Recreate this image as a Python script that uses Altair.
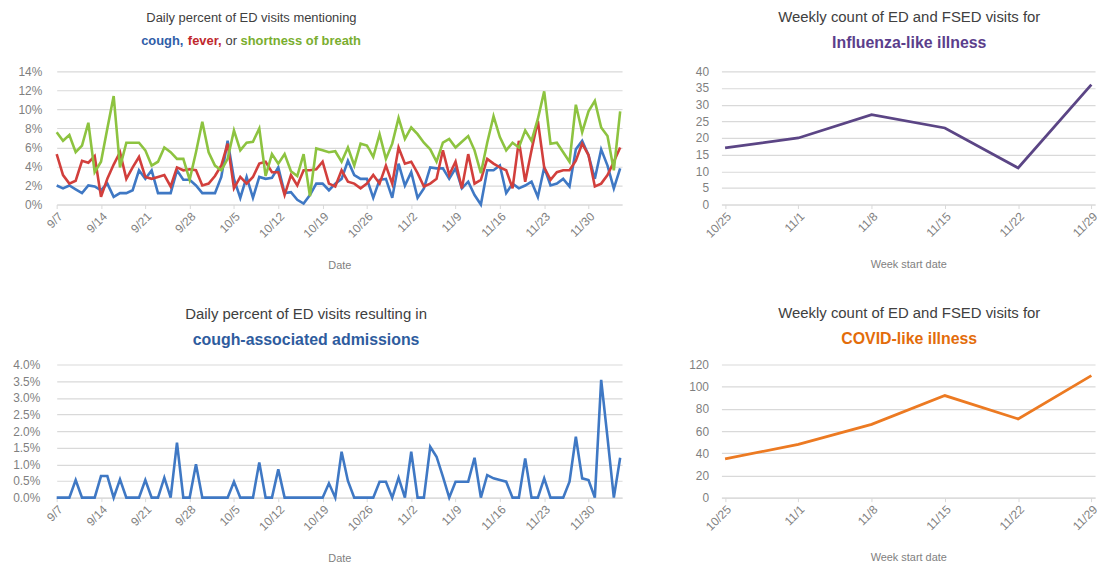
import altair as alt
import pandas as pd

# ---------------- data ----------------
daily_labels = ["9/7", "9/14", "9/21", "9/28", "10/5", "10/12", "10/19",
                "10/26", "11/2", "11/9", "11/16", "11/23", "11/30"]

cough = [2.0, 1.7, 2.0, 1.6, 1.2, 2.0, 1.9, 1.5, 2.2, 0.8,
         1.2, 1.2, 1.5, 3.6, 2.7, 3.6, 1.2, 1.2, 1.2, 3.6,
         2.6, 2.6, 2.0, 1.2, 1.2, 1.2, 2.9, 6.7, 2.7, 0.7,
         2.9, 0.7, 2.9, 2.7, 2.8, 3.9, 1.2, 1.3, 0.5, 0.1,
         1.0, 2.2, 2.2, 1.5, 2.2, 2.7, 4.6, 3.1, 2.7, 2.7,
         0.7, 2.6, 2.7, 0.7, 4.3, 2.0, 3.4, 0.7, 1.7, 3.9,
         3.8, 3.8, 2.7, 3.8, 1.7, 2.4, 1.0, 0.0, 3.6, 3.6,
         4.1, 1.2, 2.2, 1.7, 2.0, 2.4, 0.8, 3.9, 2.0, 2.2,
         2.7, 1.9, 5.8, 6.7, 5.2, 2.7, 5.8, 4.1, 1.7, 3.8]

fever = [5.3, 3.1, 2.2, 2.5, 4.6, 4.4, 5.1, 0.8, 2.7, 4.2,
         5.5, 2.7, 3.9, 5.0, 2.9, 2.7, 2.9, 3.1, 1.9, 3.9,
         3.6, 3.7, 3.6, 2.0, 2.2, 3.0, 4.1, 6.4, 1.7, 2.9,
         2.2, 2.9, 4.3, 4.5, 3.4, 3.4, 1.0, 3.1, 2.0, 3.6,
         3.6, 3.7, 4.5, 2.2, 1.9, 3.6, 2.4, 2.2, 1.7, 2.2,
         3.1, 2.2, 4.1, 2.2, 6.0, 4.3, 4.5, 3.3, 1.9, 2.2,
         2.7, 5.7, 3.1, 4.5, 1.7, 5.3, 2.2, 2.6, 4.8, 4.3,
         3.9, 3.6, 1.7, 6.7, 2.4, 5.7, 8.8, 3.9, 2.6, 3.4,
         3.6, 3.6, 4.6, 6.4, 5.2, 1.9, 2.2, 3.1, 4.5, 6.0]

breath = [7.6, 6.7, 7.3, 5.5, 6.2, 8.6, 3.4, 4.5, 8.0, 11.4,
          3.9, 6.5, 6.5, 6.5, 5.7, 4.1, 4.5, 6.0, 5.5, 4.8,
          4.8, 2.6, 5.5, 8.7, 5.5, 4.1, 3.6, 4.8, 7.8, 5.7,
          6.5, 6.6, 8.0, 3.0, 5.3, 4.3, 5.3, 3.5, 3.0, 5.3,
          0.9, 5.9, 5.7, 5.5, 5.6, 4.5, 6.0, 4.1, 6.4, 6.2,
          5.0, 7.4, 4.8, 6.4, 9.1, 6.9, 8.1, 7.4, 6.5, 5.8,
          4.5, 6.5, 6.9, 6.0, 6.6, 7.2, 5.7, 3.3, 6.5, 9.3,
          7.1, 5.7, 6.5, 6.0, 7.8, 6.7, 9.0, 11.9, 6.4, 6.5,
          5.5, 4.5, 10.5, 7.6, 9.8, 10.9, 8.1, 7.2, 3.6, 9.8]

admissions = [0, 0, 0, 0.53, 0, 0, 0, 0.65, 0.65, 0,
              0.55, 0, 0, 0, 0.53, 0, 0, 0.6, 0, 1.65,
              0, 0, 1.0, 0, 0, 0, 0, 0, 0.48, 0,
              0, 0, 1.06, 0, 0, 0.85, 0, 0, 0, 0,
              0, 0, 0, 0.43, 0, 1.38, 0.5, 0, 0, 0,
              0, 0.48, 0.48, 0, 0.6, 0, 1.38, 0, 0, 1.53,
              1.23, 0.63, 0, 0.48, 0.48, 0.48, 1.2, 0, 0.68, 0.58,
              0.53, 0.48, 0, 0, 1.18, 0, 0, 0.58, 0, 0,
              0, 0.48, 1.83, 0.58, 0.53, 0, 3.54, 1.8, 0, 1.2]

week_labels = ["10/25", "11/1", "11/8", "11/15", "11/22", "11/29"]
ili_counts = [17, 20, 27, 23, 11, 36]
cli_counts = [35, 48, 66, 92, 71, 110]

# ---------------- styling ----------------
FONT = "Liberation Sans"
GRID = "#d9d9d9"
LABEL = "#7f7f7f"
BLUE, RED, GREEN = "#3f78c4", "#d23f3c", "#8dc340"
PURPLE, ORANGE = "#5b4585", "#ec7a22"

days = list(range(len(cough)))
df_cough = pd.DataFrame({"day": days, "pct": cough})
df_fever = pd.DataFrame({"day": days, "pct": fever})
df_breath = pd.DataFrame({"day": days, "pct": breath})
df_adm = pd.DataFrame({"day": days, "pct": admissions})
df_ili = pd.DataFrame({"week": week_labels, "n": ili_counts})
df_cli = pd.DataFrame({"week": week_labels, "n": cli_counts})

tick_days = [7 * i for i in range(len(daily_labels))]
label_expr = "[" + ",".join("'%s'" % l for l in daily_labels) + "][round(datum.value/7)]"

W_L, W_R, H = 569, 376, 134


def x_daily():
    return alt.X("day:Q",
                 scale=alt.Scale(domain=[0, 89.3], nice=False, zero=False),
                 axis=alt.Axis(values=tick_days, labelExpr=label_expr, labelAngle=-45,
                               title="Date", grid=False, domainColor=GRID, tickColor=GRID,
                               tickSize=4, labelFontSize=12, labelColor=LABEL,
                               titleFontSize=11, titleFontWeight="normal", titleColor=LABEL,
                               titlePadding=20))


def x_week():
    return alt.X("week:O", sort=week_labels,
                 scale=alt.Scale(type="point", padding=0.05),
                 axis=alt.Axis(labelAngle=-45, title="Week start date", grid=False,
                               domainColor=GRID, tickColor=GRID, tickSize=4,
                               labelFontSize=12, labelColor=LABEL, titleFontSize=11,
                               titleFontWeight="normal", titleColor=LABEL, titlePadding=19))


def y_axis(field, dom, vals, expr, pad):
    return alt.Y(field, scale=alt.Scale(domain=dom, nice=False, zero=True),
                 axis=alt.Axis(values=vals, labelExpr=expr, title=None, grid=True,
                               gridColor=GRID, gridWidth=1.2, domain=False, ticks=False,
                               labelFontSize=12, labelColor=LABEL, labelPadding=pad))


def txt(text, x, y, size, color, weight="normal", align="center"):
    return alt.Chart(pd.DataFrame({"t": [text]})).mark_text(
        font=FONT, fontSize=size, fontWeight=weight, color=color, align=align,
        baseline="middle").encode(text="t:N", x=alt.value(x), y=alt.value(y))


pct_vals = list(range(0, 15, 2))
y_a = y_axis("pct:Q", [0, 14], pct_vals, "datum.value + '%'", 15)


def daily_line(df, color):
    return alt.Chart(df).mark_line(color=color, strokeWidth=2.6).encode(x=x_daily(), y=y_a)


panel_a = alt.layer(
    daily_line(df_cough, BLUE),
    daily_line(df_fever, RED),
    daily_line(df_breath, GREEN),
    txt("Daily percent of ED visits mentioning", 196, -54, 13, "#404040"),
    txt("cough,", 85, -31, 13, "#2f5ea8", "bold", "left"),
    txt("fever,", 132, -31, 13, "#c0282d", "bold", "left"),
    txt("or", 170, -31, 13, "#404040", "normal", "left"),
    txt("shortness of breath", 185, -31, 13, "#7aae2f", "bold", "left"),
).properties(width=W_L, height=H)

panel_b = alt.layer(
    alt.Chart(df_ili).mark_line(color=PURPLE, strokeWidth=2.8).encode(
        x=x_week(),
        y=y_axis("n:Q", [0, 40], list(range(0, 41, 5)), "datum.value", 13)),
    txt("Weekly count of ED and FSED visits for", 189, -55, 15, "#404040"),
    txt("Influenza-like illness", 189, -29, 16, "#5b3e8c", "bold"),
).properties(width=W_R, height=H)

adm_vals = [i * 0.5 for i in range(9)]
panel_c = alt.layer(
    alt.Chart(df_adm).mark_line(color=BLUE, strokeWidth=2.6).encode(
        x=x_daily(),
        y=y_axis("pct:Q", [0, 4], adm_vals, "format(datum.value, '.1f') + '%'", 17)),
    txt("Daily percent of ED visits resulting in", 251, -51, 15, "#404040"),
    txt("cough-associated admissions", 251, -25, 16, "#2e5c9e", "bold"),
).properties(width=W_L, height=H)

panel_d = alt.layer(
    alt.Chart(df_cli).mark_line(color=ORANGE, strokeWidth=2.8).encode(
        x=x_week(),
        y=y_axis("n:Q", [0, 120], list(range(0, 121, 20)), "datum.value", 13)),
    txt("Weekly count of ED and FSED visits for", 189, -52, 15, "#404040"),
    txt("COVID-like illness", 189, -26, 16, "#e36c0a", "bold"),
).properties(width=W_R, height=H)

chart = alt.concat(panel_a, panel_b, panel_c, panel_d, columns=2,
                   spacing={"row": 161, "column": 100}, bounds="flush").properties(
    padding={"left": 4, "top": 0, "right": 0, "bottom": 0}
).configure(font=FONT).configure_view(stroke=None)

chart.save("out.html", embed_options={"renderer": "svg", "actions": False})
